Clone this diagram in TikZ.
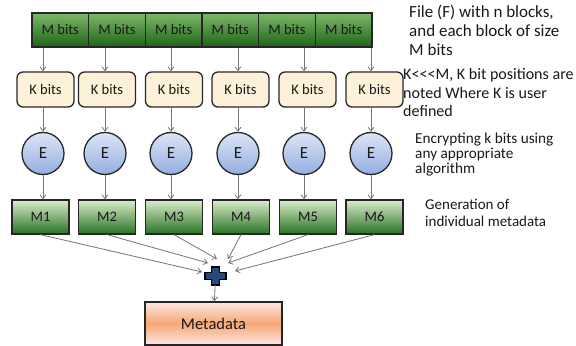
\documentclass[tikz,border=0pt]{standalone}
\usepackage{fontspec}
\setmainfont{Carlito}
\usetikzlibrary{positioning}
\usetikzlibrary{arrows.meta}
\definecolor{blocktop}{RGB}{125,185,105}
\definecolor{blockbot}{RGB}{30,100,25}
\definecolor{outtop}{RGB}{218,236,204}
\definecolor{outbot}{RGB}{40,115,35}
\definecolor{kcream}{RGB}{253,241,218}
\definecolor{enctop}{RGB}{220,229,246}
\definecolor{encbot}{RGB}{148,174,225}
\definecolor{metaedge}{RGB}{252,230,228}
\definecolor{metamid}{RGB}{247,168,118}
\definecolor{plusblue}{RGB}{35,75,125}
\definecolor{arrgray}{RGB}{118,118,118}
\tikzset{
    mblock/.style = {rectangle, line width=1.1pt, draw=black!85, top color=blocktop, bottom color=blockbot, minimum width=1.70cm, minimum height=1.02cm, inner sep=0pt, font=\fontsize{12.4}{14}\selectfont, text=black!90},
    kbox/.style = {rectangle, rounded corners=0.18cm, line width=1.1pt, draw=black!85, fill=kcream, minimum width=1.71cm, minimum height=1.05cm, inner sep=0pt, font=\fontsize{12.4}{14}\selectfont, text=black!90},
    enc/.style = {circle, line width=1.1pt, draw=black!85, top color=enctop, bottom color=encbot, minimum size=1.26cm, inner sep=0pt, font=\fontsize{14.5}{16}\selectfont, text=black!90},
    mout/.style = {rectangle, line width=1.1pt, draw=black!85, top color=outtop, bottom color=outbot, minimum width=1.71cm, minimum height=1.02cm, inner sep=0pt, font=\fontsize{12.4}{14}\selectfont, text=black!90},
    metabox/.style = {rectangle, line width=1.1pt, draw=black!85, top color=metaedge, bottom color=metaedge, middle color=metamid, minimum width=4.11cm, minimum height=1.29cm, inner sep=0pt, font=\fontsize{14.1}{16}\selectfont, text=black!90},
    plusbox/.style = {rectangle, minimum width=0.63cm, minimum height=0.54cm, inner sep=0pt},
    plusfill/.style = {fill=plusblue, draw=black, line width=1pt, line join=miter},
    note/.style = {anchor=north west, align=left, inner sep=0pt, text=black!90},
    arr/.style = {-{Straight Barb[length=3.4pt,width=5pt]}, line width=0.7pt, arrgray}
}

\begin{document}
\begin{tikzpicture}[x=0.03cm, y=-0.03cm]
\path[use as bounding box] (0,0) rectangle (576,346);
% file of n blocks
\foreach \i/\x in {1/60.33, 2/117, 3/173.67, 4/230.33, 5/287, 6/343.67}
    \node[mblock] at (\x, 30) (mb\i) {M bits};
% one column per block
\foreach \i/\ex/\kx/\mx in {1/43/45.5/40.5, 2/105/107/107, 3/171/174/174, 4/238/240.5/241, 5/304/307.5/308, 6/371/374.5/374.5} {
    \node[kbox] at (\kx, 89.5) (k\i) {K bits};
    \node[enc] at (\ex, 153.5) (e\i) {E};
    \node[mout] at (\mx, 217) (m\i) {M\i};
    \draw[arr] (mb\i.south -| e\i) -- (k\i.north -| e\i);
    \draw[arr] (k\i.south -| e\i) -- (e\i);
    \draw[arr] (e\i) -- (m\i.north -| e\i);
}
%
\node[plusbox] at (215.5, 276) (plus) {};
\draw[plusfill] (plus.center) ++(-10.5,-3.75) -- ++(6.5,0) -- ++(0,-5.25) -- ++(8,0) -- ++(0,5.25) -- ++(6.5,0) -- ++(0,7.5) -- ++(-6.5,0) -- ++(0,5.25) -- ++(-8,0) -- ++(0,-5.25) -- ++(-6.5,0) -- cycle;
\node[metabox] at (213.5, 323.5) (meta) {Metadata};
%
\foreach \i/\tx/\ty in {1/202/272, 2/208/263, 3/217/259, 4/228/259, 5/228/263, 6/235/271} {
    \coordinate (t\i) at (\tx, \ty);
    \draw[arr] (m\i.south) -- (t\i);
}
\draw[arr] (plus) -- (meta);
% notes on the right
\node[note, font=\fontsize{14.5}{16}\selectfont] at (409, 5.3) (nfile) {File (F) with n blocks,\\and each block of size\\M bits};
\node[note, font=\fontsize{13.7}{15.6}\selectfont] at (403, 68.6) (nkbits) {K<{}<{}<M, K bit positions are\\noted Where K is user\\defined};
\node[note, font=\fontsize{13}{12.9}\selectfont] at (415, 132.5) (nenc) {Encrypting k bits using\\any appropriate\\algorithm};
\node[note, font=\fontsize{12.8}{14.2}\selectfont] at (425, 199) (ngen) {Generation of\\individual metadata};
\end{tikzpicture}
\end{document}
